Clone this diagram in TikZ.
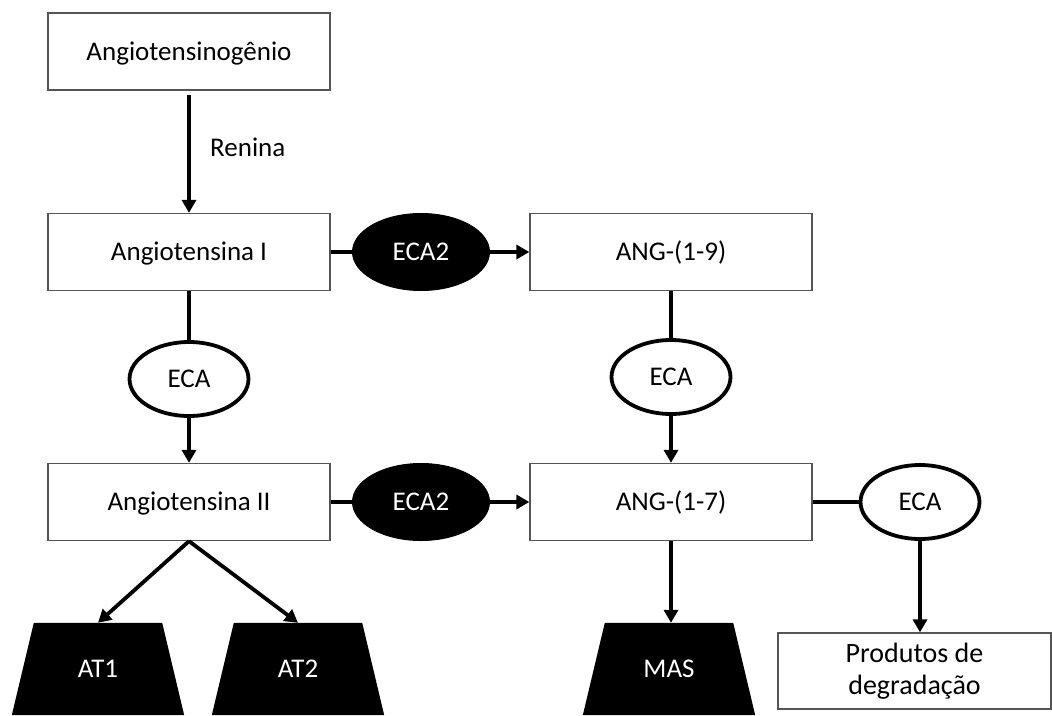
\documentclass[tikz,border=0pt]{standalone}
\usepackage{fontspec}
\setmainfont{Carlito}
\usetikzlibrary{arrows.meta,shapes.geometric,backgrounds}
\definecolor{boxgray}{RGB}{85,85,85}
\begin{document}
\begin{tikzpicture}[x=1pt,y=-1pt,
  font=\fontsize{27}{36}\selectfont,
  every node/.style={text height=17.4pt,text depth=0pt},
  box/.style={draw=boxgray,line width=1.3pt,fill=white,rectangle,minimum width=282pt,minimum height=77pt,inner sep=0pt},
  enzw/.style={draw=black,line width=3.8pt,fill=white,ellipse,minimum width=119pt,minimum height=74pt,inner sep=0pt},
  enzb/.style={draw=black,line width=1pt,fill=black,text=white,ellipse,minimum width=137pt,minimum height=77pt,inner sep=0pt},
  recep/.style={text=white,rectangle,minimum width=128pt,minimum height=92pt,inner sep=0pt},
  conn/.style={line width=3.8pt},
  arr/.style={line width=3.8pt,-{Triangle[length=13pt,width=14pt]}}
]
\useasboundingbox (0,0) rectangle (1052,715);
% boxes
\node[box] (ag)  at (189,51.5) {Angiotensinogênio};
\node[box] (a1)  at (189,252) {Angiotensina I};
\node[box] (a19) at (671,252) {ANG-(1-9)};
\node[box] (a2)  at (189,502) {Angiotensina II};
\node[box] (a17) at (671,502) {ANG-(1-7)};
\node[box,minimum width=273pt,minimum height=76pt,align=center,text height=,text depth=,font=\fontsize{28}{32}\selectfont] (prod) at (914.5,671) {Produtos de\\degradação};
% enzymes
\node[enzb] (e2a) at (421,252) {ECA2};
\node[enzb] (e2b) at (421,502) {ECA2};
\node[enzw] (e1)  at (189,379) {ECA};
\node[enzw] (e3)  at (671,377) {ECA};
\node[enzw] (e4)  at (920,502) {ECA};
% receptors
\node[recep] (at1) at (98,669) {AT1};
\node[recep] (at2) at (298,669) {AT2};
\node[recep] (mas) at (669,669) {MAS};
\begin{scope}[on background layer]
  \foreach \r in {at1,at2,mas}{
    \fill[black] (\r.north west) -- (\r.north east) -- ([xshift=22pt]\r.south east) -- ([xshift=-22pt]\r.south west) -- cycle;
  }
\end{scope}
% label
\node[anchor=west,inner sep=0pt] (ren) at (210,148) {Renina};
% connectors
\draw[arr,shorten <=4pt] (ag.south) -- (a1.north);
\draw[conn] (a1.east) -- (e2a.west);
\draw[arr] (e2a.east) -- (a19.west);
\draw[conn] (a1.south) -- (e1.north);
\draw[arr] (e1.south) -- (a2.north);
\draw[conn] (a19.south) -- (e3.north);
\draw[arr] (e3.south) -- (a17.north);
\draw[conn] (a2.east) -- (e2b.west);
\draw[arr] (e2b.east) -- (a17.west);
\draw[arr] (a2.south) -- (at1.north);
\draw[arr] (a2.south) -- (at2.north);
\draw[arr] (a17.south) -- (a17.south |- mas.north);
\draw[conn] (a17.east) -- (e4.west);
\draw[arr] (e4.south) -- (e4.south |- prod.north);
\end{tikzpicture}
\end{document}
